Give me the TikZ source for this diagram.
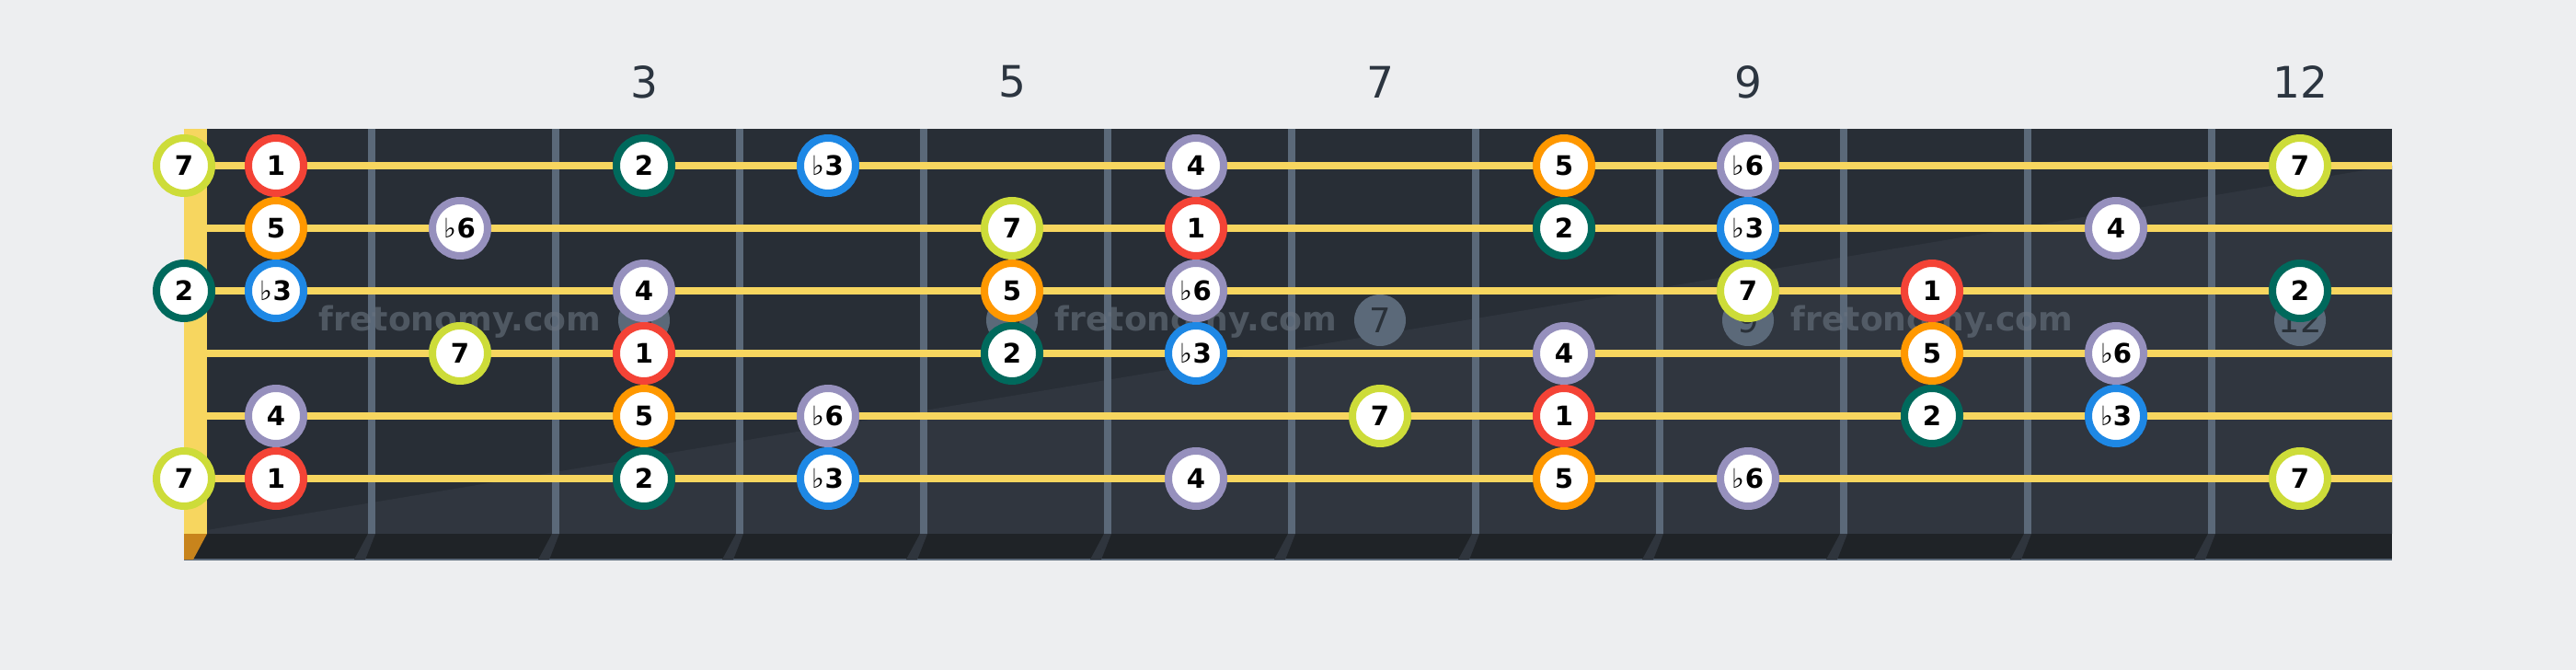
\documentclass[tikz,border=0pt]{standalone}
\usepackage{fontspec}
\setmainfont{DejaVu Sans}
\usepackage{tikz}

\definecolor{bg}{HTML}{EDEEF0}
\definecolor{board}{HTML}{282E36}
\definecolor{boardlight}{HTML}{30363F}
\definecolor{boardfoot}{HTML}{1F2327}
\definecolor{fretwire}{HTML}{5B6979}
\definecolor{fretfoot}{HTML}{2F353D}
\definecolor{strng}{HTML}{F7D65F}
\definecolor{nutfoot}{HTML}{C8841C}
\definecolor{marktext}{HTML}{2A3139}
\definecolor{labeltext}{HTML}{2C3540}
\definecolor{wmtext}{HTML}{6A7480}
\definecolor{cone}{HTML}{F44336}
\definecolor{ctwo}{HTML}{00695C}
\definecolor{cthree}{HTML}{1E88E5}
\definecolor{cfour}{HTML}{9690BD}
\definecolor{cfive}{HTML}{FF9800}
\definecolor{csix}{HTML}{9690BD}
\definecolor{cseven}{HTML}{CDDC39}

\newcommand{\notefont}{\fontsize{8.3}{10}\selectfont\bfseries}
\newcommand{\flt}{{\mdseries ♭}}

\begin{document}
\begin{tikzpicture}[x=1cm,y=1cm]
    \tikzstyle{every node}+=[inner sep=0pt]
    \tikzstyle{note}=[circle, fill=white, line width=0.08cm, minimum size=0.6cm, font=\notefont, text=black]
    \tikzstyle{one}=[note, draw=cone]
    \tikzstyle{two}=[note, draw=ctwo]
    \tikzstyle{three}=[note, draw=cthree]
    \tikzstyle{four}=[note, draw=cfour]
    \tikzstyle{five}=[note, draw=cfive]
    \tikzstyle{six}=[note, draw=csix]
    \tikzstyle{seven}=[note, draw=cseven]
    \tikzstyle{marker}=[circle, fill=fretwire, minimum size=0.56cm, text=marktext, font=\fontsize{10.5}{12}\selectfont]
    \tikzstyle{fretnum}=[text=labeltext, font=\fontsize{13.4}{16}\selectfont]
    \tikzstyle{wmark}=[text=wmtext, text opacity=0.6, font=\fontsize{10.3}{12}\selectfont\bfseries]
    \tikzstyle{stringline}=[strng, line width=0.075cm]
    \fill [bg] (0,0) rectangle (28,-7.28);
    \useasboundingbox (0,0) rectangle (28,-7.28);
    % fret numbers
    \node [fretnum] (num3) at (7,-0.89) {3};
    \node [fretnum] (num5) at (11,-0.89) {5};
    \node [fretnum] (num7) at (15,-0.89) {7};
    \node [fretnum] (num9) at (19,-0.89) {9};
    \node [fretnum] (num12) at (25,-0.89) {12};
    % board
    \fill [board] (2.25,-1.4) rectangle (26,-5.8);
    \fill [boardlight] (2.25,-5.76) -- (26,-1.8) -- (26,-5.8) -- (2.25,-5.8) -- cycle;
    \fill [boardfoot] (2,-5.8) rectangle (26,-6.08);
    \draw [fretwire, line width=0.012cm] (2,-6.08) -- (26,-6.08);
    % nut
    \fill [strng] (2,-1.4) rectangle (2.25,-5.8);
    \fill [nutfoot] (2,-5.8) -- (2.25,-5.8) -- (2.1,-6.08) -- (2,-6.08) -- cycle;
    % frets
    \fill [fretwire] (4,-1.4) rectangle (4.08,-5.8);
    \fill [fretwire] (6,-1.4) rectangle (6.08,-5.8);
    \fill [fretwire] (8,-1.4) rectangle (8.08,-5.8);
    \fill [fretwire] (10,-1.4) rectangle (10.08,-5.8);
    \fill [fretwire] (12,-1.4) rectangle (12.08,-5.8);
    \fill [fretwire] (14,-1.4) rectangle (14.08,-5.8);
    \fill [fretwire] (16,-1.4) rectangle (16.08,-5.8);
    \fill [fretwire] (18,-1.4) rectangle (18.08,-5.8);
    \fill [fretwire] (20,-1.4) rectangle (20.08,-5.8);
    \fill [fretwire] (22,-1.4) rectangle (22.08,-5.8);
    \fill [fretwire] (24,-1.4) rectangle (24.08,-5.8);
    % fret feet
    \fill [fretfoot] (4,-5.8) -- (4.08,-5.8) -- (3.97,-6.08) -- (3.85,-6.08) -- cycle;
    \fill [fretfoot] (6,-5.8) -- (6.08,-5.8) -- (5.97,-6.08) -- (5.85,-6.08) -- cycle;
    \fill [fretfoot] (8,-5.8) -- (8.08,-5.8) -- (7.97,-6.08) -- (7.85,-6.08) -- cycle;
    \fill [fretfoot] (10,-5.8) -- (10.08,-5.8) -- (9.97,-6.08) -- (9.85,-6.08) -- cycle;
    \fill [fretfoot] (12,-5.8) -- (12.08,-5.8) -- (11.97,-6.08) -- (11.85,-6.08) -- cycle;
    \fill [fretfoot] (14,-5.8) -- (14.08,-5.8) -- (13.97,-6.08) -- (13.85,-6.08) -- cycle;
    \fill [fretfoot] (16,-5.8) -- (16.08,-5.8) -- (15.97,-6.08) -- (15.85,-6.08) -- cycle;
    \fill [fretfoot] (18,-5.8) -- (18.08,-5.8) -- (17.97,-6.08) -- (17.85,-6.08) -- cycle;
    \fill [fretfoot] (20,-5.8) -- (20.08,-5.8) -- (19.97,-6.08) -- (19.85,-6.08) -- cycle;
    \fill [fretfoot] (22,-5.8) -- (22.08,-5.8) -- (21.97,-6.08) -- (21.85,-6.08) -- cycle;
    \fill [fretfoot] (24,-5.8) -- (24.08,-5.8) -- (23.97,-6.08) -- (23.85,-6.08) -- cycle;
    % position markers and watermark
    \node [marker] (mark3) at (7,-3.48) {3};
    \node [marker] (mark5) at (11,-3.48) {5};
    \node [marker] (mark7) at (15,-3.48) {7};
    \node [marker] (mark9) at (19,-3.48) {9};
    \node [marker] (mark12) at (25,-3.48) {12};
    \node [wmark] (wm1) at (5,-3.5) {fretonomy.com};
    \node [wmark] (wm2) at (13,-3.5) {fretonomy.com};
    \node [wmark] (wm3) at (21,-3.5) {fretonomy.com};
    % strings
    \draw [stringline] (2.25,-1.8) -- (26,-1.8);
    \draw [stringline] (2.25,-2.48) -- (26,-2.48);
    \draw [stringline] (2.25,-3.16) -- (26,-3.16);
    \draw [stringline] (2.25,-3.84) -- (26,-3.84);
    \draw [stringline] (2.25,-4.52) -- (26,-4.52);
    \draw [stringline] (2.25,-5.2) -- (26,-5.2);
    % string 1
    \node [seven] (s1f0) at (2,-1.8) {7};
    \node [one] (s1f1) at (3,-1.8) {1};
    \node [two] (s1f3) at (7,-1.8) {2};
    \node [three] (s1f4) at (9,-1.8) {\flt3};
    \node [four] (s1f6) at (13,-1.8) {4};
    \node [five] (s1f8) at (17,-1.8) {5};
    \node [six] (s1f9) at (19,-1.8) {\flt6};
    \node [seven] (s1f12) at (25,-1.8) {7};
    % string 2
    \node [five] (s2f1) at (3,-2.48) {5};
    \node [six] (s2f2) at (5,-2.48) {\flt6};
    \node [seven] (s2f5) at (11,-2.48) {7};
    \node [one] (s2f6) at (13,-2.48) {1};
    \node [two] (s2f8) at (17,-2.48) {2};
    \node [three] (s2f9) at (19,-2.48) {\flt3};
    \node [four] (s2f11) at (23,-2.48) {4};
    % string 3
    \node [two] (s3f0) at (2,-3.16) {2};
    \node [three] (s3f1) at (3,-3.16) {\flt3};
    \node [four] (s3f3) at (7,-3.16) {4};
    \node [five] (s3f5) at (11,-3.16) {5};
    \node [six] (s3f6) at (13,-3.16) {\flt6};
    \node [seven] (s3f9) at (19,-3.16) {7};
    \node [one] (s3f10) at (21,-3.16) {1};
    \node [two] (s3f12) at (25,-3.16) {2};
    % string 4
    \node [seven] (s4f2) at (5,-3.84) {7};
    \node [one] (s4f3) at (7,-3.84) {1};
    \node [two] (s4f5) at (11,-3.84) {2};
    \node [three] (s4f6) at (13,-3.84) {\flt3};
    \node [four] (s4f8) at (17,-3.84) {4};
    \node [five] (s4f10) at (21,-3.84) {5};
    \node [six] (s4f11) at (23,-3.84) {\flt6};
    % string 5
    \node [four] (s5f1) at (3,-4.52) {4};
    \node [five] (s5f3) at (7,-4.52) {5};
    \node [six] (s5f4) at (9,-4.52) {\flt6};
    \node [seven] (s5f7) at (15,-4.52) {7};
    \node [one] (s5f8) at (17,-4.52) {1};
    \node [two] (s5f10) at (21,-4.52) {2};
    \node [three] (s5f11) at (23,-4.52) {\flt3};
    % string 6
    \node [seven] (s6f0) at (2,-5.2) {7};
    \node [one] (s6f1) at (3,-5.2) {1};
    \node [two] (s6f3) at (7,-5.2) {2};
    \node [three] (s6f4) at (9,-5.2) {\flt3};
    \node [four] (s6f6) at (13,-5.2) {4};
    \node [five] (s6f8) at (17,-5.2) {5};
    \node [six] (s6f9) at (19,-5.2) {\flt6};
    \node [seven] (s6f12) at (25,-5.2) {7};
\end{tikzpicture}
\end{document}
